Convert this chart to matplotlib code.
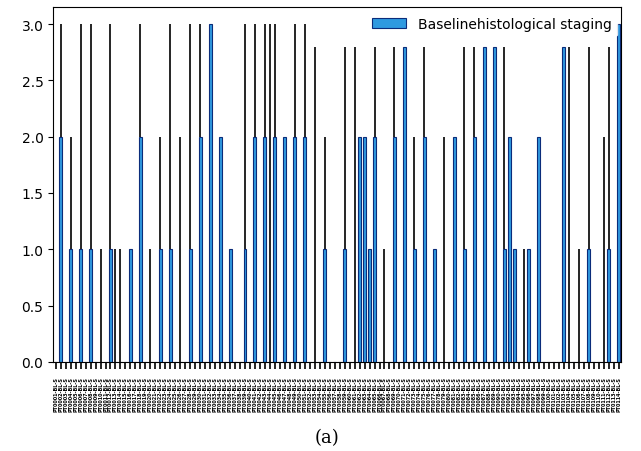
import numpy as np
import matplotlib
matplotlib.use("Agg")
import matplotlib.pyplot as plt

# staging per patient (bar height) and upper end of the black range line
stage = [0, 2, 0, 1, 0, 1, 0, 1, 0, 0,
         0, 1, 0, 0, 0, 1, 0, 2, 0, 0,
         0, 1, 0, 1, 0, 0, 0, 1, 0, 2,
         0, 3, 0, 2, 0, 1, 0, 0, 1, 0,
         2, 0, 2, 0, 2, 0, 2, 0, 2, 0,
         2, 0, 0, 0, 1, 0, 0, 0, 1, 0,
         0, 2, 2, 1, 2, 0, 0, 0, 2, 0,
         2.8, 0, 1, 0, 2, 0, 1, 0, 0, 0,
         2, 0, 1, 0, 2, 0, 2.8, 0, 2.8, 0,
         1, 2, 1, 0, 0, 1, 0, 2, 0, 0,
         0, 0, 2.8, 0, 0, 0, 0, 1, 0, 0,
         0, 1, 0, 3]

upper = [0, 3, 0, 2, 0, 3, 0, 3, 0, 1,
         0, 3, 1, 1, 0, 1, 0, 3, 0, 1,
         0, 2, 0, 3, 0, 2, 0, 3, 0, 3,
         0, 3, 0, 2, 0, 1, 0, 0, 3, 0,
         3, 0, 3, 3, 3, 0, 2, 0, 3, 0,
         3, 0, 2.8, 0, 2, 0, 0, 0, 2.8, 0,
         2.8, 2, 2, 1, 2.8, 0, 1, 0, 2.8, 0,
         2.8, 0, 2, 0, 2.8, 0, 1, 0, 2, 0,
         2, 0, 2.8, 0, 2.8, 0, 2.8, 0, 2.8, 0,
         2.8, 2, 1, 0, 1, 1, 0, 2, 0, 0,
         0, 0, 2.8, 2.8, 0, 1, 0, 2.8, 0, 0,
         2, 2.8, 0, 3]

patient_ids = [f"PT0{n:03d}-BL-S" for n in range(1, len(stage) + 1)]

stage = np.array(stage, dtype=float)
upper = np.array(upper, dtype=float)
x = np.arange(len(stage))

fig = plt.figure(figsize=(6.41, 4.52), dpi=100)
ax = fig.add_axes([0.083, 0.197, 0.886, 0.785])

ax.bar(x, stage, width=0.6, color="#2f9ae0", edgecolor="#0b2c7a", linewidth=0.8,
       label="Baselinehistological staging")

# range lines above each bar
has_line = upper > stage
ax.vlines(x[has_line], stage[has_line], upper[has_line], color="black", linewidth=1.2)

ax.set_xlim(-0.5, len(stage) - 0.5)
ax.set_ylim(0, 3.15)
ax.set_yticks(np.arange(0, 3.01, 0.5))
ax.set_xticks(x)
ax.set_xticklabels(patient_ids, rotation=90, fontsize=3.5, fontweight="bold")
ax.tick_params(axis="x", length=5, width=1.2, pad=5)

leg = ax.legend(loc="upper right", fontsize=10, borderaxespad=0.3,
                handlelength=2.5, handleheight=0.8)
leg.get_frame().set_edgecolor("white")

fig.text(0.51, 0.02, "(a)", family="DejaVu Serif", fontsize=13, ha="center")

fig.savefig("out.png", dpi=100)
